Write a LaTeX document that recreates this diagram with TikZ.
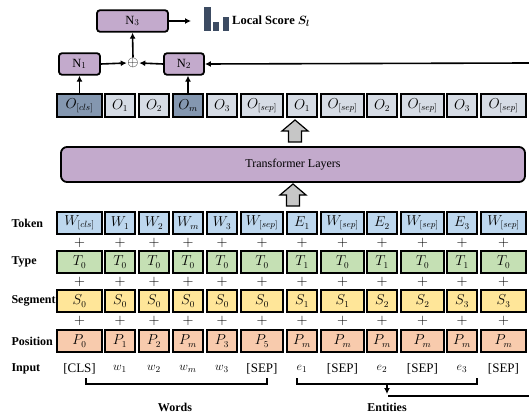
\documentclass[tikz,border=0pt]{standalone}
\usepackage{amsmath}
\usepackage{fontspec}
\setmainfont{Liberation Serif}
\usetikzlibrary{positioning,arrows.meta}

\definecolor{odark}{HTML}{8497B0}
\definecolor{olight}{HTML}{D6DCE5}
\definecolor{tokfill}{HTML}{BDD7EE}
\definecolor{typfill}{HTML}{C5E0B4}
\definecolor{segfill}{HTML}{FFE699}
\definecolor{posfill}{HTML}{F8CBAD}
\definecolor{npurple}{HTML}{C3AACC}
\definecolor{barcol}{HTML}{3C4B62}

\tikzset{
  cell/.style={draw=black, line width=1.8pt, minimum height=22.5pt, inner sep=0pt,
    font=\fontsize{13.5}{15}\selectfont},
  nbox/.style={draw=black, line width=1.8pt, rounded corners=3pt, fill=npurple,
    minimum height=21.5pt, inner sep=0pt, font=\fontsize{12.5}{14}\selectfont},
  rowlabel/.style={anchor=west, font=\bfseries\fontsize{12}{14}\selectfont},
  link/.style={line width=1.6pt, -{Latex[length=6pt,width=6pt]}},
  blkarrow/.pic={
    \draw[line width=1.2pt, fill=gray!45] (0,0) -- (13,11) -- (6.5,11) -- (6.5,22)
      -- (-6.5,22) -- (-6.5,11) -- (-13,11) -- cycle;
  }
}

\begin{document}
\begin{tikzpicture}[x=1pt, y=-1pt]
\useasboundingbox (0,0) rectangle (529,414);

% row labels
\node[rowlabel] (ltok) at (8,223) {Token};
\node[rowlabel] (ltyp) at (8,262) {Type};
\node[rowlabel] (lseg) at (8,301) {Segment};
\node[rowlabel] (lpos) at (8,341) {Position};
\node[rowlabel] (linp) at (8,369) {Input};

% columns of embeddings
\foreach \i/\cx/\w/\tok/\typ/\seg/\pos/\inp/\ofill/\out in {
  1/79.5/45/{W_{[cls]}}/T_0/S_0/P_0/{[CLS]}/odark/{O_{[cls]}},
  2/120/30/W_1/T_0/S_0/P_1/{$w_1$}/olight/O_1,
  3/154/30/W_2/T_0/S_0/P_2/{$w_2$}/olight/O_2,
  4/188/30/W_m/T_0/S_0/P_m/{$w_m$}/odark/O_m,
  5/222/30/W_3/T_0/S_0/P_3/{$w_3$}/olight/O_3,
  6/262/42/{W_{[sep]}}/T_0/S_0/P_5/{[SEP]}/olight/{O_{[sep]}},
  7/302/30/E_1/T_1/S_1/P_m/{$e_1$}/olight/O_1,
  8/342.5/43/{W_{[sep]}}/T_0/S_1/P_m/{[SEP]}/olight/{O_{[sep]}},
  9/382/30/E_2/T_1/S_2/P_m/{$e_2$}/olight/O_2,
  10/422.5/43/{W_{[sep]}}/T_0/S_2/P_m/{[SEP]}/olight/{O_{[sep]}},
  11/462/30/E_3/T_1/S_3/P_m/{$e_3$}/olight/O_3,
  12/503.5/45/{W_{[sep]}}/T_0/S_3/P_m/{[SEP]}/olight/{O_{[sep]}}} {
  \node[cell, fill=\ofill, minimum width=\w pt] (o\i) at (\cx,105.5) {$\out$};
  \node[cell, fill=tokfill, minimum width=\w pt] (tok\i) at (\cx,223) {$\tok$};
  \node[cell, fill=typfill, minimum width=\w pt] (typ\i) at (\cx,262) {$\typ$};
  \node[cell, fill=segfill, minimum width=\w pt] (seg\i) at (\cx,301) {$\seg$};
  \node[cell, fill=posfill, minimum width=\w pt] (pos\i) at (\cx,341) {$\pos$};
  \node[font=\fontsize{13}{15}\selectfont] (in\i) at (\cx,369) {\inp};
  \node[font=\fontsize{14}{15}\selectfont] (plusa\i) at (\cx,243) {$+$};
  \node[font=\fontsize{14}{15}\selectfont] (plusb\i) at (\cx,282) {$+$};
  \node[font=\fontsize{14}{15}\selectfont] (plusc\i) at (\cx,321) {$+$};
}

% transformer
\node[draw=black, line width=1.8pt, rounded corners=6pt, fill=npurple,
  minimum width=464pt, minimum height=35pt, font=\fontsize{12}{14}\selectfont]
  (trans) at (293,164.5) {Transformer Layers};
\pic at (295,120) {blkarrow};
\pic at (293,184) {blkarrow};

% heads
\node[nbox, minimum width=41pt] (n1) at (79.5,64) {N$_1$};
\node[nbox, minimum width=40pt] (n2) at (184,64) {N$_2$};
\node[nbox, minimum width=71pt] (n3) at (132.5,21) {N$_3$};
\node[inner sep=0.5pt, font=\fontsize{15}{16}\selectfont] (sum) at (133,63) {$\oplus$};
\coordinate (score) at (191,21);
\coordinate (back) at (529,63);

\draw[link] (o1.north) -- (n1.south);
\draw[link] (o4.north) -- (o4.north |- n2.south);
\draw[link] (n1.east) -- (sum.west);
\draw[link] (n2.west) -- (sum.east);
\draw[link] (sum.north) -- (n3.south);
\draw[link] (n3.east) -- (score);
\draw[link] (back) -- (n2.east);

% score icon
\fill[barcol] (204,7) rectangle (211,31);
\fill[barcol] (213,22) rectangle (219,31);
\fill[barcol] (223,17) rectangle (229,31);
\node[anchor=west, inner sep=0pt, font=\bfseries\fontsize{12.5}{14}\selectfont]
  (lscore) at (232,21) {Local Score $\boldsymbol{S_l}$};

% brackets
\draw[line width=1.6pt] (86,378) -- (86,384) -- (267,384) -- (267,378);
\draw[line width=1.6pt] (297,378) -- (297,384) -- (477,384) -- (477,378);
\draw[link] (387,384) -- (387,394);
\draw[line width=1.6pt] (388,396) -- (529,396);
\node[font=\bfseries\fontsize{12}{14}\selectfont] (words) at (175,407) {Words};
\node[font=\bfseries\fontsize{12}{14}\selectfont] (ents) at (387,407) {Entities};
\end{tikzpicture}
\end{document}
